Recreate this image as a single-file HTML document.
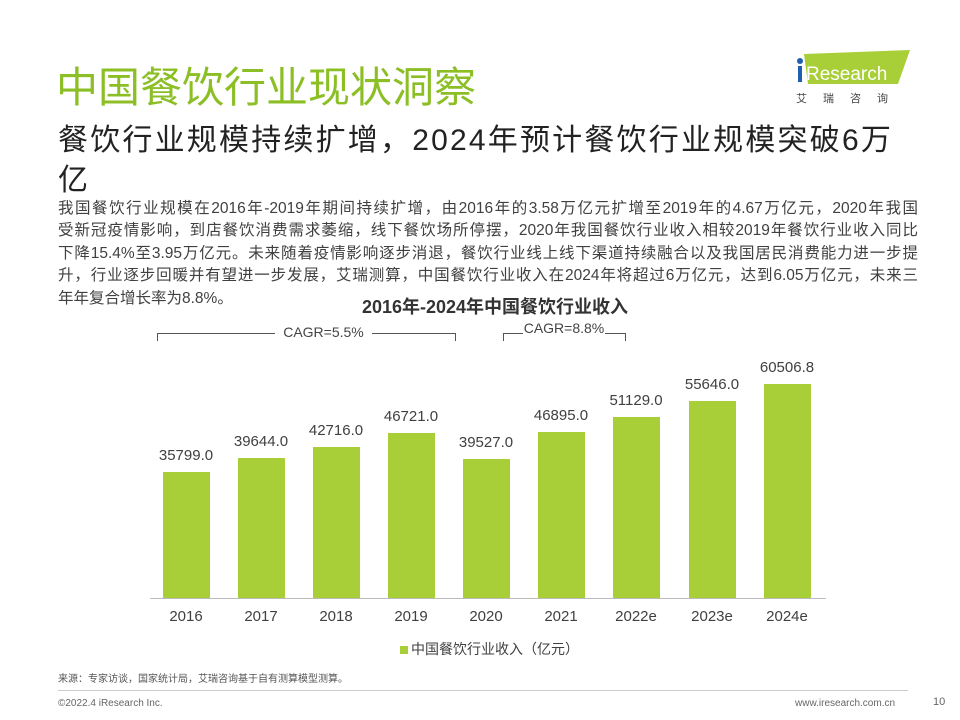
<!DOCTYPE html><html><head><meta charset="utf-8"><style>
body{margin:0;width:960px;height:720px;background:#fff;position:relative;overflow:hidden;font-family:"Liberation Sans","Noto Sans CJK SC",sans-serif;color:#333}
.a{position:absolute;white-space:nowrap}
.l{position:absolute;left:58px;width:860px;font-size:15.5px;color:#404040;text-align:justify;text-align-last:justify;white-space:nowrap}
.bar{position:absolute;width:47px;background:#a9cf38}
.v{position:absolute;width:100px;text-align:center;font-size:15px;color:#404040}
.x{position:absolute;top:608px;width:100px;text-align:center;font-size:15px;color:#404040}
.ln{position:absolute;background:#555;height:1px}
.tk{position:absolute;background:#555;width:1px;height:8px}
</style></head><body>
<div class="a" style="left:56px;top:54px;font-size:42px;color:#8cbf26">中国餐饮行业现状洞察</div>
<div class="a" style="left:58px;top:115px;font-size:30px;letter-spacing:2.2px;color:#222">餐饮行业规模持续扩增，2024年预计餐饮行业规模突破6万</div>
<div class="a" style="left:58px;top:155px;font-size:30px;color:#222">亿</div>
<div class="l" style="top:196px">我国餐饮行业规模在2016年-2019年期间持续扩增，由2016年的3.58万亿元扩增至2019年的4.67万亿元，2020年我国</div>
<div class="l" style="top:218px">受新冠疫情影响，到店餐饮消费需求萎缩，线下餐饮场所停摆，2020年我国餐饮行业收入相较2019年餐饮行业收入同比</div>
<div class="l" style="top:241px">下降15.4%至3.95万亿元。未来随着疫情影响逐步消退，餐饮行业线上线下渠道持续融合以及我国居民消费能力进一步提</div>
<div class="l" style="top:263px">升，行业逐步回暖并有望进一步发展，艾瑞测算，中国餐饮行业收入在2024年将超过6万亿元，达到6.05万亿元，未来三</div>
<div class="a" style="left:58px;top:286px;font-size:15.5px;color:#404040">年年复合增长率为8.8%。</div>
<div class="a" style="left:0;width:990px;text-align:center;top:293px;font-size:18px;font-weight:bold;color:#333">2016年-2024年中国餐饮行业收入</div>
<svg class="a" style="left:790px;top:48px" width="122" height="40"><polygon points="14,6 120,2 108,36 18,36" fill="#a9cf38"/><circle cx="10" cy="13" r="3" fill="#1f5fb0"/><rect x="8" y="18" width="4" height="16" fill="#1f5fb0"/><text x="16" y="32" font-family="Liberation Sans" font-size="19" fill="#fff">Research</text></svg>
<div class="a" style="left:796px;top:90px;font-size:11px;letter-spacing:16px;color:#444">艾瑞咨询</div>
<div class="ln" style="left:157px;top:333px;width:118px"></div><div class="tk" style="left:157px;top:333px"></div>
<div class="ln" style="left:372px;top:333px;width:83px"></div><div class="tk" style="left:455px;top:333px"></div>
<div class="a" style="left:275px;width:97px;text-align:center;top:324px;font-size:14px;color:#444">CAGR=5.5%</div>
<div class="ln" style="left:503px;top:333px;width:20px"></div><div class="tk" style="left:503px;top:333px"></div>
<div class="ln" style="left:605px;top:333px;width:20px"></div><div class="tk" style="left:625px;top:333px"></div>
<div class="a" style="left:523px;width:82px;text-align:center;top:320px;font-size:14px;color:#444">CAGR=8.8%</div>
<div class="bar" style="left:163px;top:472px;height:126px"></div><div class="v" style="left:136px;top:447px">35799.0</div><div class="x" style="left:136px">2016</div>
<div class="bar" style="left:238px;top:458px;height:140px"></div><div class="v" style="left:211px;top:433px">39644.0</div><div class="x" style="left:211px">2017</div>
<div class="bar" style="left:313px;top:447px;height:151px"></div><div class="v" style="left:286px;top:422px">42716.0</div><div class="x" style="left:286px">2018</div>
<div class="bar" style="left:388px;top:433px;height:165px"></div><div class="v" style="left:361px;top:408px">46721.0</div><div class="x" style="left:361px">2019</div>
<div class="bar" style="left:463px;top:459px;height:139px"></div><div class="v" style="left:436px;top:434px">39527.0</div><div class="x" style="left:436px">2020</div>
<div class="bar" style="left:538px;top:432px;height:166px"></div><div class="v" style="left:511px;top:407px">46895.0</div><div class="x" style="left:511px">2021</div>
<div class="bar" style="left:613px;top:417px;height:181px"></div><div class="v" style="left:586px;top:392px">51129.0</div><div class="x" style="left:586px">2022e</div>
<div class="bar" style="left:689px;top:401px;height:197px"></div><div class="v" style="left:662px;top:376px">55646.0</div><div class="x" style="left:662px">2023e</div>
<div class="bar" style="left:764px;top:384px;height:214px"></div><div class="v" style="left:737px;top:359px">60506.8</div><div class="x" style="left:737px">2024e</div>
<div class="ln" style="left:150px;top:598px;width:676px;background:#bbb"></div>
<div class="a" style="left:400px;top:639px;font-size:14px;color:#404040"><span style="display:inline-block;width:8px;height:8px;background:#a9cf38;margin-right:3px"></span>中国餐饮行业收入（亿元）</div>
<div class="a" style="left:58px;top:670px;font-size:10px;color:#555">来源：专家访谈，国家统计局，艾瑞咨询基于自有测算模型测算。</div>
<div class="ln" style="left:58px;top:690px;width:850px;background:#ccc"></div>
<div class="a" style="left:58px;top:698px;font-size:10px;color:#666">©2022.4 iResearch Inc.</div>
<div class="a" style="left:795px;top:698px;font-size:10px;color:#666">www.iresearch.com.cn</div>
<div class="a" style="left:933px;top:696px;font-size:11px;color:#666">10</div>
</body></html>
